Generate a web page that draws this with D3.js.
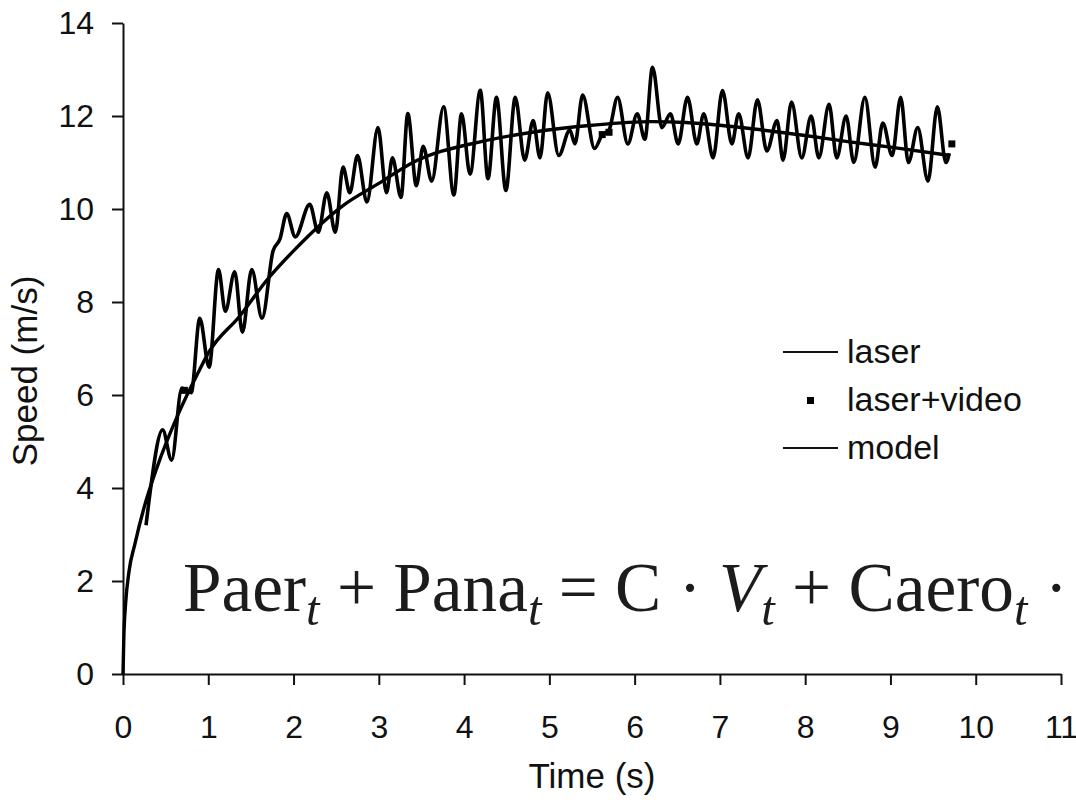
<!DOCTYPE html>
<html>
<head>
<meta charset="utf-8">
<script src="https://cdn.jsdelivr.net/npm/d3@7"></script>
<style>
  body { margin: 0; background: #fff; }
  svg { display: block; }
  .axis path, .axis line { stroke: #111; stroke-width: 2; }
  .axis text { font-family: "Liberation Sans", Arial, sans-serif; font-size: 32px; fill: #111; }
</style>
</head>
<body>
<svg id="vis" width="1076" height="800"></svg>
<script>
// chart values
const xTicks = [0, 1, 2, 3, 4, 5, 6, 7, 8, 9, 10, 11];
const yTicks = [0, 2, 4, 6, 8, 10, 12, 14];

// laser trace, time (s) and speed (m/s)
const laserTime = [0.27, 0.31, 0.465, 0.57, 0.69, 0.8, 0.9, 1.01, 1.12, 1.2, 1.31, 1.4, 1.51, 1.63,
    1.76, 1.84, 1.92, 2.02, 2.19, 2.29, 2.39, 2.49, 2.58, 2.66, 2.75, 2.86, 2.99, 3.09, 3.16, 3.26,
    3.34, 3.44, 3.52, 3.62, 3.76, 3.88, 3.97, 4.07, 4.19, 4.28, 4.38, 4.49, 4.6, 4.71, 4.81, 4.89,
    4.98, 5.11, 5.24, 5.3, 5.39, 5.53, 5.62, 5.7, 5.8, 5.92, 6.03, 6.12, 6.21, 6.32, 6.42, 6.51,
    6.62, 6.73, 6.81, 6.92, 7.03, 7.14, 7.22, 7.33, 7.44, 7.55, 7.67, 7.74, 7.84, 7.96, 8.07, 8.16,
    8.28, 8.37, 8.48, 8.57, 8.7, 8.82, 8.91, 9.02, 9.12, 9.21, 9.32, 9.44, 9.55, 9.65, 9.69];
const laserSpeed = [3.2, 3.8, 5.25, 4.6, 6.15, 6.05, 7.65, 6.6, 8.7, 7.8, 8.65, 7.35, 8.7, 7.65,
    9.1, 9.35, 9.9, 9.4, 10.1, 9.5, 10.35, 9.5, 10.9, 10.35, 11.15, 10.15, 11.75, 10.35, 11.1, 10.25,
    12.05, 10.5, 11.35, 10.6, 12.2, 10.3, 12.05, 10.75, 12.55, 10.65, 12.4, 10.4, 12.4, 11.05, 11.9, 11.1,
    12.5, 11.15, 11.7, 11.4, 12.45, 11.3, 11.6, 11.7, 12.4, 11.4, 12.05, 11.5, 13.05, 11.75, 12.05, 11.4,
    12.4, 11.4, 12.05, 11.1, 12.55, 11.4, 12.05, 11.1, 12.35, 11.25, 11.9, 11.05, 12.3, 11.1, 12.0, 11.1,
    12.25, 11.1, 12.0, 11.0, 12.4, 10.9, 11.85, 11.15, 12.4, 11.0, 11.75, 10.6, 12.2, 11.0, 11.2];

// laser+video points
const videoTime = [0.72, 5.62, 5.7, 9.72];
const videoSpeed = [6.1, 11.6, 11.65, 11.4];

// model curve
const modelTime = [0, 0.01, 0.03, 0.07, 0.14, 0.25, 0.4, 0.65, 0.9, 1.0, 1.37, 1.7, 2.0, 2.6, 3.0,
    3.4, 4.2, 4.8, 5.5, 6.2, 6.6, 7.0, 7.4, 8.0, 8.5, 9.0, 9.7];
const modelSpeed = [0, 0.8, 1.5, 2.2, 2.8, 3.6, 4.45, 5.6, 6.55, 6.9, 7.7, 8.5, 9.1, 10.1, 10.55,
    11.0, 11.45, 11.65, 11.8, 11.88, 11.86, 11.8, 11.72, 11.58, 11.45, 11.33, 11.15];

const legendLabels = ["laser", "laser+video", "model"];

const svg = d3.select('#vis');
const FONT = "Liberation Sans, Arial, sans-serif";

const x = d3.scaleLinear().domain([0, 11]).range([123, 1061]);
const y = d3.scaleLinear().domain([0, 14]).range([674, 23]);

// axes
svg.append("g")
    .attr("class", "axis")
    .attr("transform", "translate(0," + y(0) + ")")
    .call(d3.axisBottom(x).tickValues(xTicks).tickSize(11).tickSizeOuter(0).tickPadding(30));

svg.append("g")
    .attr("class", "axis")
    .attr("transform", "translate(" + x(0) + ",0)")
    .call(d3.axisLeft(y).tickValues(yTicks).tickSize(11).tickSizeOuter(0).tickPadding(18));

// axis titles
svg.append("text")
    .attr("x", (x(0) + x(11)) / 2)
    .attr("y", 788)
    .attr("text-anchor", "middle")
    .style("font-family", FONT)
    .style("font-size", "35px")
    .attr("fill", "#111")
    .text("Time (s)");

svg.append("text")
    .attr("transform", "translate(37," + 371 + ") rotate(-90)")
    .attr("text-anchor", "middle")
    .style("font-family", FONT)
    .style("font-size", "35px")
    .attr("fill", "#111")
    .text("Speed (m/s)");

// lines
var line = d3.line()
    .x(function (d) { return x(d[0]); })
    .y(function (d) { return y(d[1]); })
    .curve(d3.curveMonotoneX);

svg.append("path")
    .datum(d3.zip(modelTime, modelSpeed))
    .attr("d", line)
    .attr("fill", "none")
    .attr("stroke", "#000")
    .attr("stroke-width", 3.4);

svg.append("path")
    .datum(d3.zip(laserTime, laserSpeed))
    .attr("d", line)
    .attr("fill", "none")
    .attr("stroke", "#000")
    .attr("stroke-width", 3.6)
    .attr("stroke-linejoin", "round");

svg.selectAll(".video")
    .data(d3.zip(videoTime, videoSpeed))
    .enter().append("rect")
    .attr("class", "video")
    .attr("x", function (d) { return x(d[0]) - 3.5; })
    .attr("y", function (d) { return y(d[1]) - 3.5; })
    .attr("width", 7)
    .attr("height", 7)
    .attr("fill", "#000");

// legend
var legend = svg.append("g").attr("transform", "translate(783,352)");
legendLabels.forEach(function (name, i) {
    var g = legend.append("g").attr("transform", "translate(0," + (i * 48) + ")");
    if (name === "laser+video") {
        g.append("rect").attr("x", 24).attr("y", -3).attr("width", 7).attr("height", 7).attr("fill", "#000");
    } else {
        g.append("line").attr("x1", 0).attr("x2", 55).attr("y1", 0).attr("y2", 0)
            .attr("stroke", "#111").attr("stroke-width", 1.8);
    }
    g.append("text")
        .attr("x", 64)
        .attr("y", 11)
        .style("font-family", FONT)
        .style("font-size", "34px")
        .attr("fill", "#111")
        .text(name);
});

// formula
var formula = svg.append("text")
    .attr("x", 183)
    .attr("y", 611)
    .style("font-family", "Liberation Serif, serif")
    .style("font-size", "60px")
    .attr("fill", "#1c1c1c");

var parts = [
    ["Paer", false, false], ["t", true, true], [" + Pana", false, false], ["t", true, true],
    [" = C · ", false, false], ["V", true, false], ["t", true, true], [" + Caero", false, false],
    ["t", true, true], [" ·", false, false]
];
var sub = false;
parts.forEach(function (p) {
    var ts = formula.append("tspan").text(p[0]);
    if (p[1]) ts.style("font-style", "italic");
    if (p[2]) { ts.attr("dy", 12).attr("class", "sub").style("font-size", "42px"); sub = true; }
    else if (sub) { ts.attr("dy", -12); sub = false; }
});

// fit the formula to the width it takes in the picture
var w = formula.node().getComputedTextLength();
var k = 885 / w;
formula.style("font-size", (60 * k) + "px");
formula.selectAll("tspan").each(function () {
    var t = d3.select(this);
    if (t.classed("sub")) t.style("font-size", (42 * k) + "px");
    if (t.attr("dy")) t.attr("dy", +t.attr("dy") * k);
});
</script>
</body>
</html>
